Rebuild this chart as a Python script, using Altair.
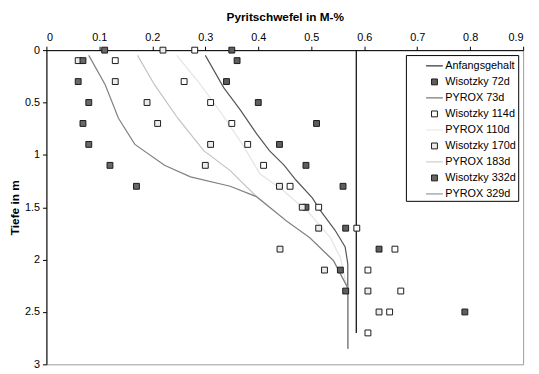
import altair as alt
import pandas as pd

# ---------------- data ----------------
series_order = ["Anfangsgehalt", "Wisotzky 72d", "PYROX 73d", "Wisotzky 114d",
                "PYROX 110d", "Wisotzky 170d", "PYROX 183d", "Wisotzky 332d",
                "PYROX 329d"]

# measured profiles (Wisotzky), depth in m
w_depth = [0, 0.1, 0.3, 0.5, 0.7, 0.9, 1.1, 1.3, 1.5, 1.7, 1.9, 2.1, 2.3, 2.5, 2.7]
w72 = [0.35, 0.36, 0.34, 0.40, 0.51, 0.44, 0.49, 0.56, 0.49, 0.565, 0.628, 0.555, 0.565, 0.79]
w114 = [0.28, 0.13, 0.26, 0.31, 0.35, 0.38, 0.41, 0.46, 0.514, 0.586, 0.658, 0.607, 0.669, 0.648, 0.607]
w170 = [0.22, 0.06, 0.13, 0.19, 0.21, 0.31, 0.30, 0.44, 0.483, 0.514, 0.441, 0.525, 0.607, 0.628]
w332 = [0.11, 0.069, 0.06, 0.08, 0.069, 0.08, 0.12, 0.17]

# initial content
anf_x = [0.585, 0.585]
anf_d = [0.0, 2.7]

# PYROX model curves
p73_x = [0.30, 0.335, 0.366, 0.397, 0.421, 0.449, 0.471, 0.502, 0.517, 0.545, 0.564, 0.569, 0.569]
p73_d = [0.05, 0.36, 0.57, 0.80, 0.96, 1.10, 1.24, 1.41, 1.53, 1.72, 1.88, 2.04, 2.85]
p110_x = [0.246, 0.291, 0.33, 0.37, 0.403, 0.447, 0.497, 0.536, 0.555, 0.569, 0.569]
p110_d = [0.05, 0.33, 0.60, 0.90, 1.18, 1.34, 1.56, 1.79, 1.98, 2.30, 2.85]
p183_x = [0.172, 0.204, 0.248, 0.297, 0.347, 0.397, 0.453, 0.497, 0.542, 0.569, 0.569]
p183_d = [0.05, 0.33, 0.65, 0.96, 1.15, 1.40, 1.63, 1.79, 2.01, 2.27, 2.85]
p329_x = [0.080, 0.111, 0.136, 0.167, 0.223, 0.272, 0.347, 0.397, 0.453, 0.497, 0.542, 0.569, 0.569]
p329_d = [0.05, 0.33, 0.65, 0.90, 1.10, 1.21, 1.30, 1.40, 1.63, 1.79, 2.01, 2.27, 2.85]

x_ticks = [0, 0.1, 0.2, 0.3, 0.4, 0.5, 0.6, 0.7, 0.8, 0.9]
y_ticks = [0, 0.5, 1, 1.5, 2, 2.5, 3]

# ---------------- styles ----------------
SQ = "M-0.35,-0.35H0.35V0.35H-0.35Z"
stroke_range = ["#000000", "#1a1a1a", "#555555", "#1a1a1a", "#e4e4e4",
                "#1a1a1a", "#c2c2c2", "#1a1a1a", "#808080"]
fill_range = ["transparent", "#5e5e5e", "transparent", "#ffffff", "transparent",
              "#ececec", "transparent", "#686868", "transparent"]
shape_range = ["stroke", SQ, "stroke", SQ, "stroke", SQ, "stroke", SQ, "stroke"]

# ---------------- tables ----------------
pts = []
for name, vals in [("Wisotzky 72d", w72), ("Wisotzky 114d", w114),
                   ("Wisotzky 170d", w170), ("Wisotzky 332d", w332)]:
    for d, v in zip(w_depth, vals):
        pts.append({"series": name, "x": v, "d": d})
pts = pd.DataFrame(pts)

lns = []
for name, xs, ds in [("Anfangsgehalt", anf_x, anf_d), ("PYROX 73d", p73_x, p73_d),
                     ("PYROX 110d", p110_x, p110_d), ("PYROX 183d", p183_x, p183_d),
                     ("PYROX 329d", p329_x, p329_d)]:
    for i, (v, d) in enumerate(zip(xs, ds)):
        lns.append({"series": name, "x": v, "d": d, "i": i})
lns = pd.DataFrame(lns)

FONT = "Liberation Sans"

legend = alt.Legend(
    orient="none", legendX=365, legendY=5, title=None,
    strokeColor="black", padding=2, rowPadding=2.25,
    symbolSize=289, symbolStrokeWidth=1, symbolOffset=18, labelOffset=2,
    labelFont=FONT, labelFontSize=11, labelColor="black",
    labelExpr="datum.label + '\u00a0\u00a0\u00a0\u00a0'",
)

x_enc = alt.X("x:Q", scale=alt.Scale(domain=[0, 0.9], nice=False, zero=False),
              axis=alt.Axis(orient="top", values=x_ticks, format="~g",
                            title="Pyritschwefel in M-%", titlePadding=8,
                            tickSize=4, labelPadding=4))
y_enc = alt.Y("d:Q", scale=alt.Scale(domain=[0, 3], reverse=True, nice=False),
              axis=alt.Axis(orient="left", values=y_ticks, format="~g",
                            title="Tiefe in m", titlePadding=3,
                            tickSize=4, labelPadding=3))

stroke_scale = alt.Scale(domain=series_order, range=stroke_range)
fill_scale = alt.Scale(domain=series_order, range=fill_range)
shape_scale = alt.Scale(domain=series_order, range=shape_range)

lines = alt.Chart(lns).mark_line(strokeWidth=1.2).encode(
    x=x_enc, y=y_enc,
    stroke=alt.Stroke("series:N", scale=stroke_scale, legend=legend),
    order="i:Q",
)

points = alt.Chart(pts).mark_point(size=289, opacity=1, strokeWidth=1).encode(
    x=x_enc, y=y_enc,
    stroke=alt.Stroke("series:N", scale=stroke_scale, legend=legend),
    fill=alt.Fill("series:N", scale=fill_scale, legend=legend),
    shape=alt.Shape("series:N", scale=shape_scale, legend=legend),
)

chart = alt.layer(lines, points).properties(
    width=484, height=319,
    autosize=alt.AutoSizeParams(type="none"),
    padding={"left": 39, "top": 40, "right": 8, "bottom": 6},
).configure_view(
    stroke="#9a9a9a", strokeWidth=1
).configure_axis(
    grid=False, domainColor="black", tickColor="black", labelColor="black",
    titleColor="black", labelFont=FONT, labelFontSize=11, titleFont=FONT,
    titleFontSize=12, titleFontWeight="bold", domainWidth=1, tickWidth=1,
)

chart.save("out.html", embed_options={"renderer": "svg", "actions": False})
